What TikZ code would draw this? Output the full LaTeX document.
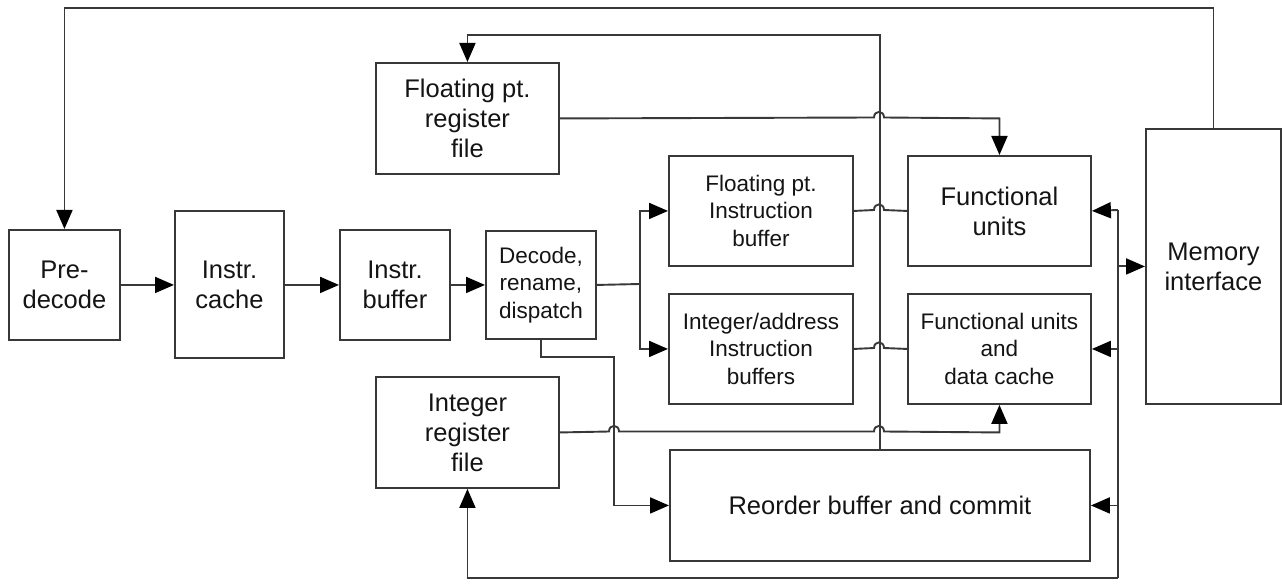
\documentclass[tikz,border=0pt]{standalone}
\usepackage{fontspec}
\setmainfont{Liberation Sans}
\usetikzlibrary{arrows.meta}
\definecolor{ln}{HTML}{383838}
\definecolor{tx}{HTML}{141414}
\tikzset{
  box/.style={draw=ln, line width=1.9pt, align=center, text=tx, inner sep=0pt,
    anchor=north west, font=\fontsize{25.5}{30}\selectfont},
  smalltext/.style={font=\fontsize{22.5}{27.5}\selectfont},
  conn/.style={draw=ln, line width=1.9pt},
  arr/.style={conn, -{Triangle[length=19pt,width=16pt,color=black]}},
}
\begin{document}
\begin{tikzpicture}[x=1pt,y=-1pt]
\useasboundingbox (0,0) rectangle (1282,585);
% boxes
\node[box, minimum width=111, minimum height=110] (pre) at (8,229) {Pre-\\decode};
\node[box, minimum width=109, minimum height=147] (cache) at (174,210) {Instr.\\cache};
\node[box, minimum width=110, minimum height=110] (ibuf) at (339,229) {Instr.\\buffer};
\node[box, smalltext, minimum width=110, minimum height=108] (decode) at (485,230) {Decode,\\rename,\\dispatch};
\node[box, minimum width=183, minimum height=111] (fpreg) at (375,62) {Floating pt.\\register\\file};
\node[box, minimum width=183, minimum height=111] (intreg) at (375,376) {Integer\\register\\file};
\node[box, smalltext, minimum width=184, minimum height=110] (fpib) at (668,155) {Floating pt.\\Instruction\\buffer};
\node[box, smalltext, minimum width=184, minimum height=110] (intib) at (668,293) {Integer/address\\Instruction\\buffers};
\node[box, minimum width=183, minimum height=110] (fu1) at (907,155) {Functional\\units};
\node[box, smalltext, minimum width=183, minimum height=110] (fu2) at (907,293) {Functional units\\and\\data cache};
\node[box, minimum width=420, minimum height=111] (rob) at (669,449) {Reorder buffer and commit};
\node[box, minimum width=135, minimum height=275] (mem) at (1145,128) {Memory\\interface};
% helper coordinates
\coordinate (topy) at (0,8);
\coordinate (roby) at (0,35);
\coordinate (split) at (640,284);
\coordinate (d1) at (614,357);
\coordinate (bustop) at (1118,210);
\coordinate (busbot) at (1118,578);
% main chain
\draw[arr] (pre) -- (cache.west |- pre.east);
\draw[arr] (cache.east |- ibuf.west) -- (ibuf);
\draw[arr] (ibuf) -- (decode);
% memory to predecode
\draw[arr] (mem.north) -- (mem.north |- topy) -| (pre.north);
% dispatch
\draw[conn] (decode.east) -- (split);
\draw[arr] (split) |- (fpib.west);
\draw[arr] (split) |- (intib.west);
\draw[arr] (decode.south) |- (d1) |- (rob.west);
% reorder to fp register file
\draw[arr] (rob.north) -- (rob.north |- roby) -| (fpreg.north);
% fp reg -> fu1 (hop)
\draw[arr] (fpreg.east) -- (874,117.5) .. controls (874,110) and (884,110) .. (884,117.5)
  -- (fu1.north |- fpreg.east) -- (fu1.north);
% fp instr -> fu1 (hop)
\draw[conn] (fpib.east) -- (874,210) .. controls (874,202.5) and (884,202.5) .. (884,210) -- (fu1.west);
% int instr -> fu2 (hop)
\draw[conn] (intib.east) -- (874,348) .. controls (874,340.5) and (884,340.5) .. (884,348) -- (fu2.west);
% int reg -> fu2 (two hops)
\draw[arr] (intreg.east) -- (609,431.5) .. controls (609,424) and (619,424) .. (619,431.5)
  -- (874,431.5) .. controls (874,424) and (884,424) .. (884,431.5)
  -- (fu2.south |- intreg.east) -- (fu2.south);
% result bus
\draw[conn] (bustop) -- (busbot);
\draw[arr] (bustop) -- (fu1.east);
\draw[arr] (bustop |- fu2.east) -- (fu2.east);
\draw[arr] (bustop |- rob.east) -- (rob.east);
\draw[arr] (bustop |- mem.west) -- (mem.west);
\draw[arr] (busbot) -- (intreg.south |- busbot) -- (intreg.south);
\end{tikzpicture}
\end{document}
